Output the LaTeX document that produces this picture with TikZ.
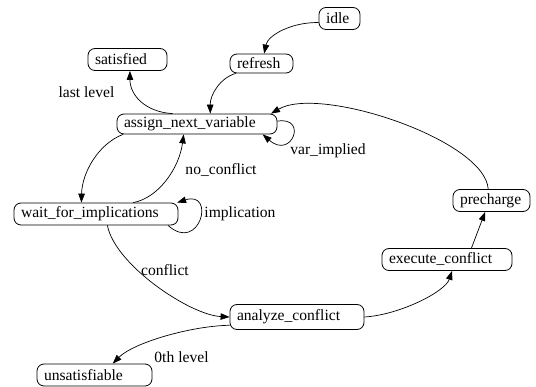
\documentclass[tikz,border=0pt]{standalone}
\usepackage{fontspec}
\setmainfont{Liberation Serif}
\usetikzlibrary{arrows.meta}
\tikzset{
  state/.style={draw, line width=0.8pt, rounded corners=7pt, align=left, inner xsep=7pt, inner ysep=0pt, minimum height=22pt, font=\fontsize{15.6pt}{18pt}\selectfont},
  trans/.style={-{Triangle[length=9pt,width=6.5pt]}, line width=0.7pt},
  elabel/.style={inner sep=0pt, font=\fontsize{15.6pt}{18pt}\selectfont},
}

\begin{document}
\begin{tikzpicture}[x=1pt,y=-1pt]
  \useasboundingbox (0,0) rectangle (536,387);

  % States
  \node[state, text width=27pt] (idle) at (339.5,18.5) {idle};
  \node[state, text width=49pt, minimum height=19pt] (refresh) at (261.5,63.5) {refresh};
  \node[state, text width=65pt] (sat) at (127.5,59.5) {satisfied};
  \node[state, text width=146pt, minimum height=20pt] (assign) at (197,124) {assign\_next\_variable};
  \node[state, text width=150pt] (wait) at (96,214) {wait\_for\_implications};
  \node[state, text width=120pt, minimum height=25pt] (analyze) at (297,317) {analyze\_conflict};
  \node[state, text width=116pt] (execute) at (447,259.5) {execute\_conflict};
  \node[state, text width=63pt] (precharge) at (491.5,200.5) {precharge};
  \node[state, text width=101pt] (unsat) at (94.5,375) {unsatisfiable};

  % Transitions
  \draw[trans] (idle.191) .. controls (292,22) and (268,35) .. (refresh.75);
  \draw[trans] (refresh.201) .. controls (220,78) and (210,95) .. (assign.38);
  \draw[trans] (assign.157) .. controls (145,112) and (130,95) .. (sat.-78);
  \draw[trans] (assign.2) .. controls (308,116) and (292,160) .. (assign.-9);
  \draw[trans] (precharge.106) .. controls (485,140) and (320,85) .. (assign.8);
  \draw[trans] (assign.188) .. controls (98,144) and (82,173) .. (wait.142);
  \draw[trans] (wait.17) .. controls (158,198) and (179,169) .. (assign.218);
  \draw[trans] (wait.-9) .. controls (200,254) and (216,190) .. (wait.8);
  \draw[trans] (wait.-45) .. controls (115,265) and (190,315) .. (analyze.west);
  \draw[trans] (analyze.187) .. controls (190,326) and (133,343) .. (unsat.32);
  \draw[trans] (analyze.east) .. controls (399,315) and (445,292) .. (execute.-66);
  \draw[trans] (execute.25) -- (precharge.241);

  % Labels
  \node[elabel] (lbllast) at (86.5,92) {last level};
  \node[elabel] (lblvar) at (328,151) {var\_implied};
  \node[elabel] (lblnoconf) at (221,170) {no\_conflict};
  \node[elabel] (lblimpl) at (240,214) {implication};
  \node[elabel] (lblconf) at (165,270) {conflict};
  \node[elabel] (lblzero) at (181.5,357) {0th level};
\end{tikzpicture}
\end{document}
